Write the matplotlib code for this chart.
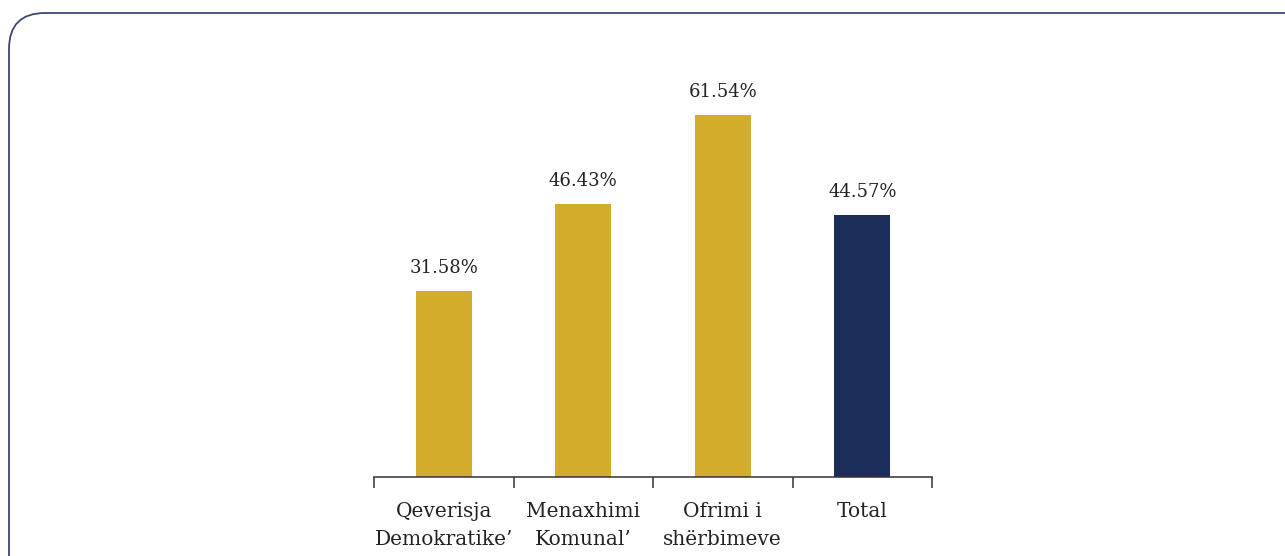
import matplotlib.pyplot as plt
from matplotlib.patches import FancyBboxPatch

categories = ["Qeverisja\nDemokratike\u2019", "Menaxhimi\nKomunal\u2019", "Ofrimi i\nshërbimeve", "Total"]
values = [31.58, 46.43, 61.54, 44.57]
value_labels = ["31.58%", "46.43%", "61.54%", "44.57%"]

gold = "#D3AC2B"
navy = "#1B2D59"
colors = [gold, gold, gold, navy]

W, H = 1285, 556
fig = plt.figure(figsize=(W / 100, H / 100), dpi=100)

# background frame with rounded corners (pixel coords)
bg = fig.add_axes([0, 0, 1, 1])
bg.set_xlim(0, W)
bg.set_ylim(H, 0)
bg.axis("off")
frame = FancyBboxPatch((9, 13), 1400, 700, boxstyle="round,pad=0,rounding_size=36",
                       facecolor="white", edgecolor="#3a4872", linewidth=1.3)
bg.add_patch(frame)

# main axes: baseline at y=477 px, x from 373 to 933 px
left, right, base, top = 374, 932, 477, 115
ax = fig.add_axes([left / W, (H - base) / H, (right - left) / W, (base - top) / H])
ax.patch.set_alpha(0)
x = range(len(categories))
bars = ax.bar(x, values, width=0.4, color=colors)
ax.set_xlim(-0.5, len(categories) - 0.5)
ax.set_ylim(0, max(values))

for b, lab in zip(bars, value_labels):
    ax.annotate(lab, (b.get_x() + b.get_width() / 2, b.get_height()),
                xytext=(0, 10), textcoords="offset points", ha="center", va="bottom",
                fontsize=13, color="#222222", family="DejaVu Serif", annotation_clip=False)

for s in ["top", "right", "left"]:
    ax.spines[s].set_visible(False)
ax.spines["bottom"].set_color("#333333")
ax.spines["bottom"].set_linewidth(1.1)
ax.set_yticks([])
ax.set_xticks([i - 0.5 for i in range(len(categories) + 1)])
ax.set_xticklabels([])
ax.set_xticks(list(x), minor=True)
ax.set_xticklabels(categories, minor=True, fontsize=14.5, family="DejaVu Serif",
                   color="#222222", linespacing=1.6)
ax.tick_params(axis="x", which="major", length=8, width=1.1, color="#333333", direction="out")
ax.tick_params(axis="x", which="minor", length=0, pad=18)

fig.savefig("out.png", dpi=100)
